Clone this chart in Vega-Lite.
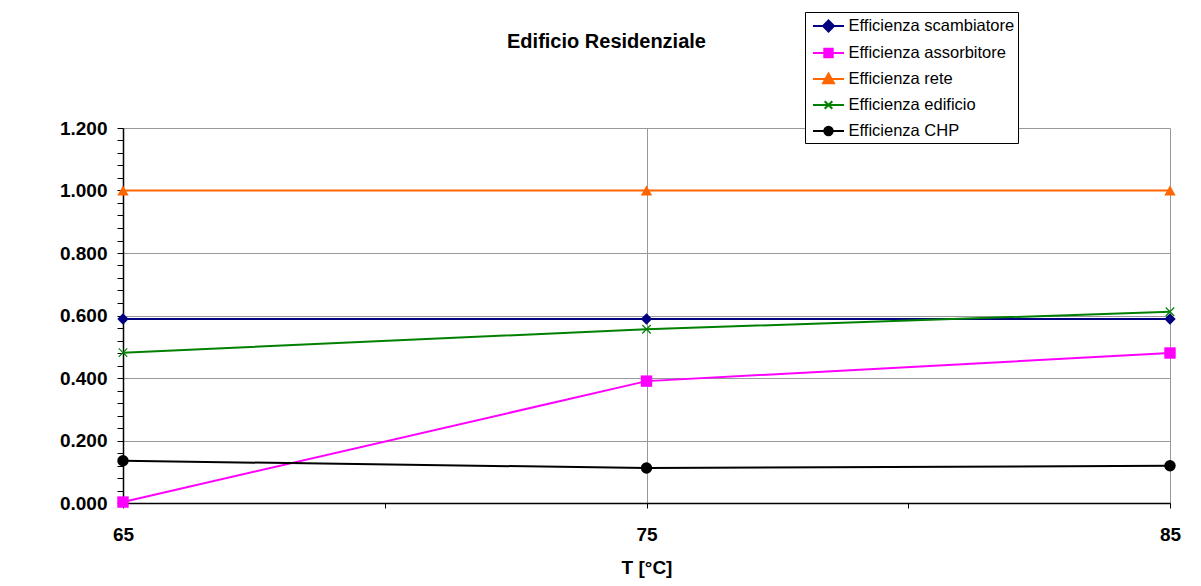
{
  "$schema": "https://vega.github.io/schema/vega-lite/v6.json",
  "autosize": "none",
  "width": 1047,
  "height": 375,
  "padding": {"left": 123, "top": 128, "right": 31, "bottom": 83},
  "background": "white",
  "config": {
    "font": "Liberation Sans",
    "view": {"stroke": null}
  },
  "title": {
    "text": "Edificio Residenziale",
    "font": "Liberation Sans",
    "fontSize": 20,
    "fontWeight": "bold",
    "color": "black",
    "anchor": "middle",
    "dx": -40,
    "offset": -40
  },
  "data": {
    "values": [
      {"T": 65, "serie": "Efficienza scambiatore", "eff": 0.589},
      {"T": 75, "serie": "Efficienza scambiatore", "eff": 0.589},
      {"T": 85, "serie": "Efficienza scambiatore", "eff": 0.589},
      {"T": 65, "serie": "Efficienza assorbitore", "eff": 0.003},
      {"T": 75, "serie": "Efficienza assorbitore", "eff": 0.390},
      {"T": 85, "serie": "Efficienza assorbitore", "eff": 0.480},
      {"T": 65, "serie": "Efficienza rete", "eff": 1.0},
      {"T": 75, "serie": "Efficienza rete", "eff": 1.0},
      {"T": 85, "serie": "Efficienza rete", "eff": 1.0},
      {"T": 65, "serie": "Efficienza edificio", "eff": 0.481},
      {"T": 75, "serie": "Efficienza edificio", "eff": 0.556},
      {"T": 85, "serie": "Efficienza edificio", "eff": 0.612},
      {"T": 65, "serie": "Efficienza CHP", "eff": 0.135},
      {"T": 75, "serie": "Efficienza CHP", "eff": 0.112},
      {"T": 85, "serie": "Efficienza CHP", "eff": 0.119}
    ]
  },
  "encoding": {
    "x": {
      "field": "T",
      "type": "quantitative",
      "title": "T [°C]",
      "scale": {"domain": [65, 85], "nice": false, "zero": false},
      "axis": {
        "values": [65, 70, 75, 80, 85],
        "labelExpr": "datum.value % 10 == 5 ? datum.label : ''",
        "labelFont": "Liberation Sans",
        "labelFontSize": 19,
        "labelFontWeight": "bold",
        "labelColor": "black",
        "labelPadding": 17,
        "labelFlush": false,
        "tickSize": 5,
        "tickColor": "black",
        "domainColor": "black",
        "domainWidth": 1.5,
        "grid": true,
        "gridColor": "#999999",
        "gridOpacity": {"condition": {"test": "datum.value % 10 == 5", "value": 1}, "value": 0},
        "titleFont": "Liberation Sans",
        "titleFontSize": 19,
        "titleFontWeight": "bold",
        "titleColor": "black",
        "titlePadding": 14
      }
    },
    "y": {
      "field": "eff",
      "type": "quantitative",
      "title": null,
      "scale": {"domain": [0, 1.2], "nice": false},
      "axis": {
        "values": [0, 0.04, 0.08, 0.12, 0.16, 0.2, 0.24, 0.28, 0.32, 0.36, 0.4, 0.44, 0.48, 0.52, 0.56, 0.6, 0.64, 0.68, 0.72, 0.76, 0.8, 0.84, 0.88, 0.92, 0.96, 1.0, 1.04, 1.08, 1.12, 1.16, 1.2],
        "labelExpr": "abs(datum.value * 5 - round(datum.value * 5)) < 0.001 ? format(datum.value, '.3f') : ''",
        "labelFont": "Liberation Sans",
        "labelFontSize": 19,
        "labelFontWeight": "bold",
        "labelColor": "black",
        "labelPadding": 10,
        "labelFlush": false,
        "tickSize": 6,
        "tickColor": "black",
        "domainColor": "black",
        "domainWidth": 1.5,
        "grid": true,
        "gridColor": "#999999",
        "gridOpacity": {"condition": {"test": "abs(datum.value * 5 - round(datum.value * 5)) < 0.001", "value": 1}, "value": 0}
      }
    },
    "color": {
      "field": "serie",
      "type": "nominal",
      "scale": {
        "domain": ["Efficienza scambiatore", "Efficienza assorbitore", "Efficienza rete", "Efficienza edificio", "Efficienza CHP"],
        "range": ["#000080", "#FF00FF", "#FF6600", "#008000", "#000000"]
      }
    }
  },
  "layer": [
    {
      "mark": {"type": "line", "strokeWidth": 2},
      "encoding": {
        "color": {
          "field": "serie",
          "type": "nominal",
          "legend": {
            "title": null,
            "orient": "none",
            "legendX": 682,
            "legendY": -116,
            "padding": 3,
            "fillColor": "white",
            "strokeColor": "black",
            "labelFont": "Liberation Sans",
            "labelFontSize": 16.5,
            "labelColor": "black",
            "labelLimit": 400,
            "symbolSize": 400,
            "symbolStrokeWidth": 2,
            "symbolOffset": 9.5,
            "labelOffset": 9,
            "rowPadding": 6,
            "encode": {
              "symbols": {
                "update": {
                  "shape": {"signal": "datum.value === 'Efficienza scambiatore' ? 'M-1.55,0H1.55M0,-0.55L0.55,0L0,0.55L-0.55,0Z' : datum.value === 'Efficienza assorbitore' ? 'M-1.55,0H1.55M-0.42,-0.42H0.42V0.42H-0.42Z' : datum.value === 'Efficienza rete' ? 'M-1.55,0H1.55M0,-0.55L0.55,0.42L-0.55,0.42Z' : datum.value === 'Efficienza edificio' ? 'M-1.55,0H1.55M-0.38,-0.38L0.38,0.38M-0.38,0.38L0.38,-0.38' : 'M-1.55,0H1.55M-0.42,0A0.42,0.42,0,1,0,0.42,0A0.42,0.42,0,1,0,-0.42,0Z'"},
                  "fill": {"scale": "color", "field": "value"},
                  "stroke": {"scale": "color", "field": "value"},
                  "strokeWidth": {"value": 2},
                  "opacity": {"value": 1}
                }
              }
            }
          }
        }
      }
    },
    {
      "transform": [{"filter": "datum.serie !== 'Efficienza edificio'"}],
      "mark": {"type": "point", "filled": true, "opacity": 1, "size": 130},
      "encoding": {
        "shape": {
          "field": "serie",
          "type": "nominal",
          "legend": null,
          "scale": {
            "domain": ["Efficienza scambiatore", "Efficienza assorbitore", "Efficienza rete", "Efficienza CHP"],
            "range": ["diamond", "square", "triangle-up", "circle"]
          }
        }
      }
    },
    {
      "transform": [{"filter": "datum.serie === 'Efficienza edificio'"}],
      "mark": {"type": "point", "filled": false, "opacity": 1, "size": 72, "strokeWidth": 1.2, "shape": "M-1,-1L1,1M-1,1L1,-1"}
    }
  ]
}
